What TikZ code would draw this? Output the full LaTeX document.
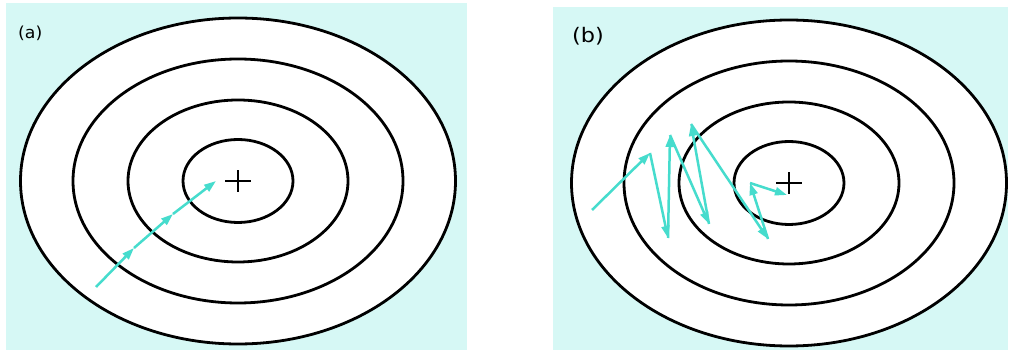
\documentclass[tikz,border=0pt]{standalone}
\usepackage{fontspec}
\setmainfont{DejaVu Sans}
\usepackage{xcolor}
\usetikzlibrary{arrows.meta}
\definecolor{bgcyan}{RGB}{214,248,245}
\definecolor{tq}{RGB}{70,220,205}
\tikzset{
  x=1pt, y=-1pt,
  >={Triangle[length=12pt,width=8pt]},
  panel/.style={fill=bgcyan, draw=none},
  ring/.style={draw=black, line width=2.8pt, fill=white},
  mv/.style={->, draw=tq, fill=tq, line width=2.5pt},
  tag/.style={anchor=west, inner sep=0pt, transform shape},
  crossbar/.style={line width=2.6pt},
}

\begin{document}
\begin{tikzpicture}
  \useasboundingbox (0,0) rectangle (1009,352);
  \fill[panel] (6,3) rectangle (467,350);
  \fill[panel] (553,7) rectangle (1008,350);

  % target rings
  \coordinate (ca) at (238,181);
  \coordinate (cb) at (789,183);
  \foreach \rx/\ry in {217.5/163,165/122,110/81,55/41.5}{
    \draw[ring] (ca) ellipse [x radius=\rx, y radius=\ry];
    \draw[ring] (cb) ellipse [x radius=\rx, y radius=\ry];
  }
  \foreach \c in {ca,cb}{
    \draw[crossbar] ([xshift=-13pt]\c) -- ([xshift=13pt]\c);
    \draw[crossbar] ([yshift=-11pt]\c) -- ([yshift=11pt]\c);
  }

  \node[tag, xscale=1.05, font=\fontsize{16.5}{19}\selectfont] (la) at (18,33) {(a)};
  \node[tag, xscale=1.12, font=\fontsize{20}{24}\selectfont] (lb) at (572,36) {(b)};

  % (a) steady steps
  \coordinate (a0) at (96,287);
  \coordinate (a1) at (134,248);
  \coordinate (a2) at (173,214);
  \coordinate (a3) at (216,181);
  \draw[mv] (a0) -- (a1);
  \draw[mv] (a1) -- (a2);
  \draw[mv] (a2) -- (a3);

  % (b) zig-zag steps
  \coordinate (b0) at (592,210);
  \coordinate (b1) at (650,153);
  \coordinate (b2) at (668,238);
  \coordinate (b3) at (670,135);
  \coordinate (b4) at (709,224);
  \coordinate (b5) at (691,124);
  \coordinate (b6) at (768,239);
  \coordinate (b7) at (750,183);
  \coordinate (b8) at (787,195);
  \draw[mv] (b0) -- (b1);
  \draw[mv] (b1) -- (b2);
  \draw[mv] (b2) -- (b3);
  \draw[mv] (b3) -- (b4);
  \draw[mv] (b4) -- (b5);
  \draw[mv] (b5) -- (b6);
  \draw[mv] (b6) -- (b7);
  \draw[mv] (b7) -- (b8);
\end{tikzpicture}
\end{document}
